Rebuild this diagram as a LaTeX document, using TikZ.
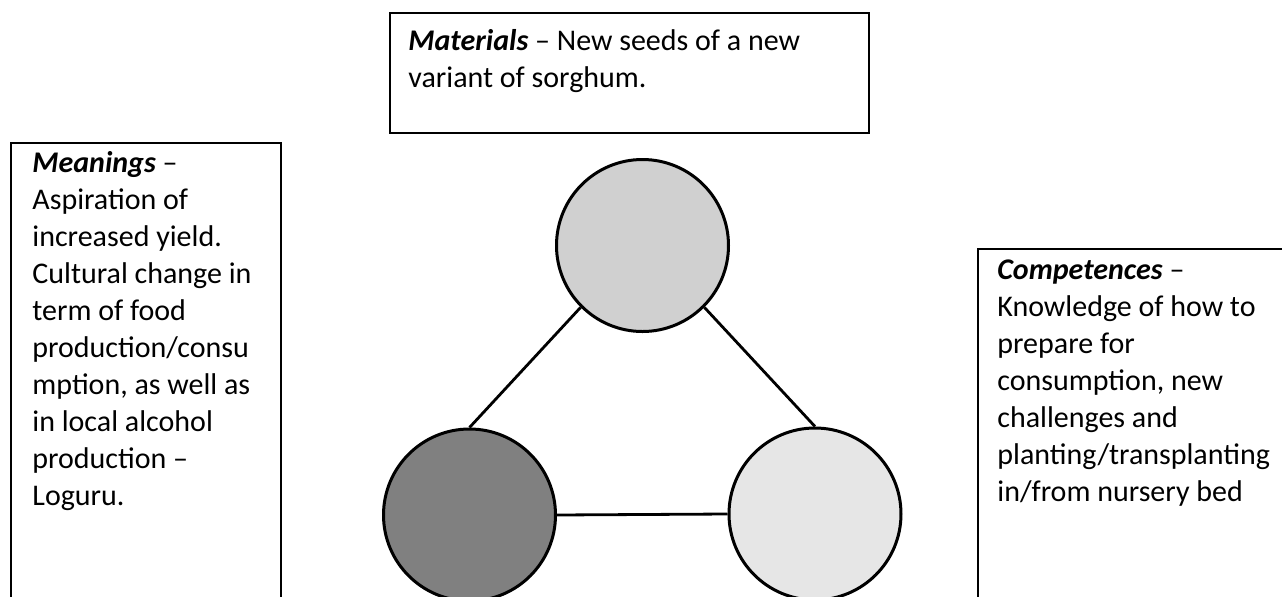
\documentclass[tikz,border=0pt]{standalone}
\usepackage{fontspec}
\setmainfont{Carlito}
\usetikzlibrary{positioning}
\tikzset{%
   blob/.style={circle, inner sep=0pt, minimum size=86pt, draw=black, line width=1.5pt},
   box/.style={rectangle, inner sep=0pt, anchor=north west, draw=black, line width=1pt},
   txt/.style={inner sep=0pt, align=left, font=\fontsize{15}{18.5}\selectfont, execute at begin node=\strut},
   link/.style={line width=1.4pt},
}
\definecolor{matgrey}{HTML}{D0D0D0}
\definecolor{meangrey}{HTML}{808080}
\definecolor{compgrey}{HTML}{E6E6E6}

\begin{document}
\begin{tikzpicture}[x=0.5pt, y=-0.5pt]
      \clip (0,0) rectangle (1282,596);
      \fill[white] (0,0) rectangle (1282,596);
      % the three text boxes
      \node[box, minimum width=239.5pt, minimum height=60pt] (matbox) at (389,12) {};
      \node[box, minimum width=135pt, minimum height=240pt] (meanbox) at (10,142) {};
      \node[box, minimum width=170pt, minimum height=180pt] (compbox) at (977,248) {};
      \node[txt, below right=8.5pt and 9.5pt of matbox.north west] (mattext)
         {\textbf{\textit{Materials}} – New seeds of a new\\variant of sorghum.};
      \node[txt, below right=4.5pt and 11pt of meanbox.north west] (meantext)
         {\textbf{\textit{Meanings}} –\\Aspiration of\\increased yield.\\Cultural change in\\term of food\\production/consu\\mption, as well as\\in local alcohol\\production –\\Loguru.};
      \node[txt, below right=5.5pt and 10pt of compbox.north west] (comptext)
         {\textbf{\textit{Competences}} –\\Knowledge of how to\\prepare for\\consumption, new\\challenges and\\planting/transplanting\\in/from nursery bed};
      % the triangle of elements
      \node[blob, fill=matgrey] (mat) at (642.5,245.5) {};
      \node[blob, fill=meangrey] (mean) at (469.5,515) {};
      \node[blob, fill=compgrey] (comp) at (815,514) {};
      \draw[link] (mat.-135) -- (mean.north);
      \draw[link] (mat.-45) -- (comp.north);
      \draw[link] (mean.east) -- (comp.west);
   \end{tikzpicture}
\end{document}
